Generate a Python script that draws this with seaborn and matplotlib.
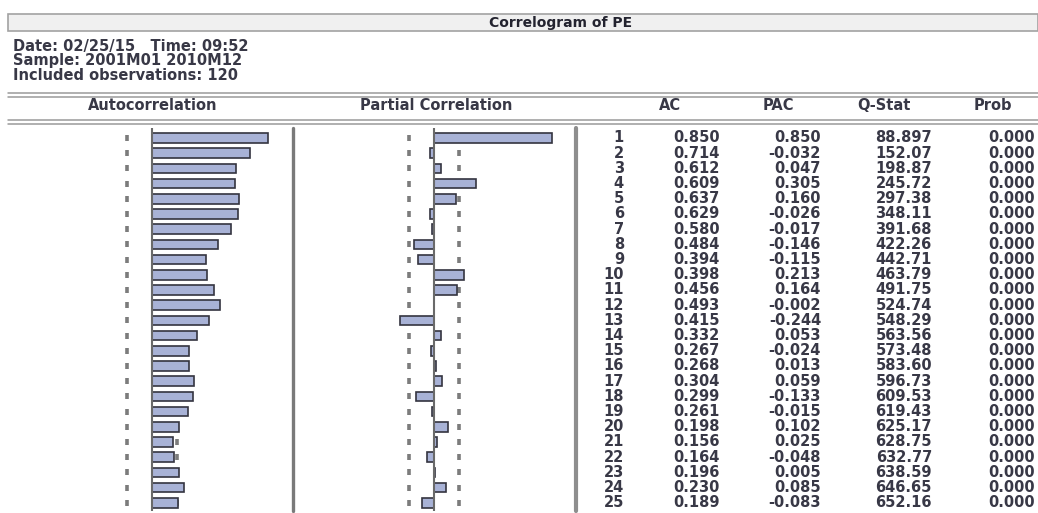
import matplotlib
matplotlib.use("Agg")
import matplotlib.pyplot as plt
from matplotlib.patches import Rectangle
import numpy as np
import pandas as pd
import seaborn as sns

# ---- correlogram data -------------------------------------------------------
series_name = "PE"
date_line = "Date: 02/25/15   Time: 09:52"
sample_line = "Sample: 2001M01 2010M12"
n_obs = 120

lags = list(range(1, 26))
ac = [0.850, 0.714, 0.612, 0.609, 0.637, 0.629, 0.580, 0.484, 0.394, 0.398,
      0.456, 0.493, 0.415, 0.332, 0.267, 0.268, 0.304, 0.299, 0.261, 0.198,
      0.156, 0.164, 0.196, 0.230, 0.189]
pac = [0.850, -0.032, 0.047, 0.305, 0.160, -0.026, -0.017, -0.146, -0.115, 0.213,
       0.164, -0.002, -0.244, 0.053, -0.024, 0.013, 0.059, -0.133, -0.015, 0.102,
       0.025, -0.048, 0.005, 0.085, -0.083]
q_stat = [88.897, 152.07, 198.87, 245.72, 297.38, 348.11, 391.68, 422.26, 442.71, 463.79,
          491.75, 524.74, 548.29, 563.56, 573.48, 583.60, 596.73, 609.53, 619.43, 625.17,
          628.75, 632.77, 638.59, 646.65, 652.16]
prob = [0.000] * 25

columns = ["AC", "PAC", "Q-Stat", "Prob"]

# ---- style ------------------------------------------------------------------
sns.set_style("white")
plt.rcParams["font.family"] = ["DejaVu Sans"]
TXT = "#383846"
BAR = "#a8b2d6"
EDGE = "#34343f"
BODY = dict(fontsize=10.5, fontweight="bold", color=TXT)

W, H = 1038, 513
fig = plt.figure(figsize=(W / 100, H / 100), dpi=100)


def px_axes(x0, y0, x1, y1):
    """Axes placed by pixel box (top-left origin)."""
    return fig.add_axes([x0 / W, 1 - y1 / H, (x1 - x0) / W, (y1 - y0) / H])


ROW0, ROWH = 138.0, 15.2          # pixel centre of first row, row pitch
TOP, BOT = 128.0, 511.0           # vertical extent of the body
ylim = ((BOT - ROW0) / ROWH, (TOP - ROW0) / ROWH)
bound = 2 / np.sqrt(n_obs)

df = pd.DataFrame({"lag": [str(k) for k in lags], "AC": ac, "PAC": pac})
order = df["lag"].tolist()


def correlation_panel(x0, x1, zero_px, scale, col):
    ax = px_axes(x0, TOP, x1, BOT)
    pos = np.arange(len(lags))
    # dotted +/- 2/sqrt(n) bounds, drawn beneath the bars
    for b in (-bound, bound):
        ax.plot([b] * len(lags), pos, ls="none", marker="|", ms=4.5,
                mew=2.6, color="#7c7c7c", zorder=1)
    sns.barplot(data=df, x=col, y="lag", order=order, orient="h", color=BAR,
                saturation=1, width=0.62, edgecolor=EDGE, linewidth=1.2,
                ax=ax, zorder=2)
    ax.axvline(0, color="#6a6a6a", lw=1.5, zorder=3)
    ax.set_xlim((x0 - zero_px) / scale, (x1 - zero_px) / scale)
    ax.set_ylim(*ylim)
    ax.set_axis_off()
    return ax


correlation_panel(100, 290, 152, 137, "AC")
correlation_panel(380, 572, 434, 139, "PAC")

# ---- frame, header and table text (pixel coordinates) -------------------------
frame = px_axes(0, 0, W, H)
frame.set_xlim(0, W)
frame.set_ylim(H, 0)
frame.set_axis_off()

frame.add_patch(Rectangle((8, 14), W - 8, 17, facecolor="#f0f0f0",
                          edgecolor="#a2a2a2", lw=1.2))
frame.text(561, 23, f"Correlogram of {series_name}", ha="center", va="center",
           fontsize=10, fontweight="bold", color="#23232f")

for y, txt in zip((46, 61, 76), (date_line, sample_line,
                                  f"Included observations: {n_obs}")):
    frame.text(13, y, txt, ha="left", va="center", **BODY)

for y in (93, 96.5, 120, 124):
    frame.plot([8, W], [y, y], color="#9a9a9a", lw=1.1)

headers = [("Autocorrelation", 153), ("Partial Correlation", 436)] + \
          list(zip(columns, (670, 778, 884, 993)))
for txt, x in headers:
    frame.text(x, 106, txt, ha="center", va="center", **BODY)

frame.plot([293, 293], [128, 511], color="#7a7a7a", lw=2.4)
frame.plot([576, 576], [128, 511], color="#8e8e8e", lw=3.0)


def fmt_q(q):
    return f"{q:.{max(5 - len(str(int(q))), 0)}f}"


for i, k in enumerate(lags):
    y = ROW0 + i * ROWH
    cells = [(str(k), 624), (f"{ac[i]:.3f}", 720), (f"{pac[i]:.3f}", 821),
             (fmt_q(q_stat[i]), 932), (f"{prob[i]:.3f}", 1035)]
    for txt, x in cells:
        frame.text(x, y, txt, ha="right", va="center", **BODY)

fig.savefig("out.png", dpi=100)
